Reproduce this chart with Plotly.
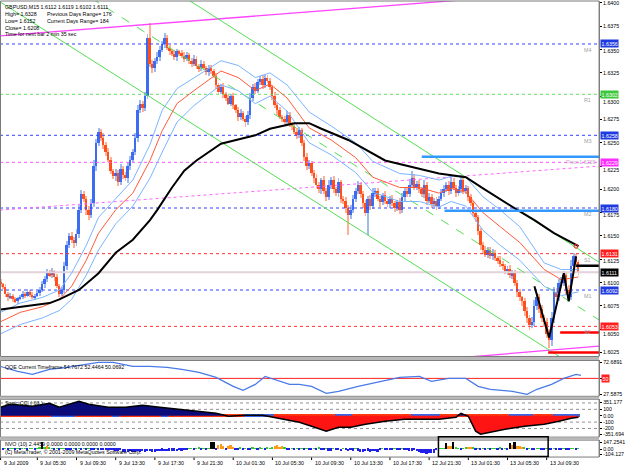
import plotly.graph_objects as go

W, H = 625, 469
BASE = 1.6000
PIP = 0.0001
FONT = "Liberation Sans"
FS = 5.3

# ---------------- main price data (pips above 1.6000) ----------------
open_first_pips = 101
close_pips = [
    98, 95, 88, 84, 86, 82, 80, 83, 85,
    88, 86, 90, 87, 84, 86, 89, 92,
    98, 104, 110, 108, 112, 106,
    96, 88, 92,
    118, 140, 150,
    146, 142, 152,
    178, 195, 190,
    178, 172, 185,
    225, 250, 262,
    255, 248, 240,
    232, 220, 214, 218,
    208, 222, 215, 212, 225,
    232, 240, 255,
    285, 292,
    287, 300,
    362, 335,
    330, 338, 342,
    350, 356, 362, 352, 348,
    345, 342, 348, 346, 343, 340, 344, 338,
    335, 340, 332, 330, 335, 330, 326, 330, 327, 322,
    312, 305, 310, 302,
    298, 292, 300, 290,
    285, 278, 282, 276, 272, 280,
    298, 310, 306,
    315, 318, 312, 320, 316, 310,
    300, 290, 285, 278,
    276, 272, 280, 270,
    268, 262, 258, 264,
    250, 235, 225, 228, 218, 212,
    205, 200, 210, 198, 192, 205,
    210, 200, 196, 208, 190, 188,
    180, 172, 178, 190,
    198, 205, 195, 185,
    175, 190, 182, 196,
    198, 190, 186, 194, 188, 184, 190, 185,
    180, 186, 178, 192, 198, 195, 205,
    212, 202, 206, 200,
    195, 205, 188, 192, 184, 188,
    182, 190, 196, 200,
    205, 198, 208, 202, 196, 200,
    210, 198, 202, 192,
    185, 175, 170,
    155, 140, 135,
    130, 135, 128, 132, 126, 124,
    120, 118, 112, 115, 108, 110,
    100, 90, 84, 80,
    70, 62, 55, 58, 75,
    85, 72, 62, 58,
    45, 38,
    62, 90, 85, 100,
    100, 108, 92, 84,
    118, 128, 122, 111,
]
wick_up_pips = [
    3, 2, 4, 2, 3, 2, 3, 2, 2, 3,
    2, 3, 2, 3, 2, 2, 3, 4, 3, 5,
    3, 4, 2, 3, 2, 3, 4, 5, 3, 4,
    3, 6, 5, 4, 3, 3, 4, 5, 6, 4,
    4, 3, 5, 3, 4, 3, 2, 4, 3, 5,
    3, 4, 3, 4, 3, 5, 6, 4, 3, 5,
    5, 16, 4, 3, 5, 4, 3, 6, 4, 3,
    3, 4, 3, 2, 3, 4, 3, 2, 3, 4,
    3, 2, 4, 3, 2, 3, 3, 2, 3, 2,
    3, 4, 2, 3, 2, 3, 2, 3, 4, 2,
    3, 4, 5, 3, 4, 3, 4, 5, 3, 3,
    3, 2, 4, 3, 3, 2, 3, 4, 3, 2,
    3, 4, 3, 2, 3, 4, 3, 2, 3, 4,
    3, 2, 4, 3, 5, 3, 4, 3, 4, 2,
    3, 4, 3, 5, 4, 3, 4, 3, 3, 4,
    3, 4, 5, 3, 4, 3, 2, 4, 3, 3,
    4, 3, 3, 5, 4, 3, 4, 6, 8, 4,
    3, 4, 3, 5, 3, 4, 3, 3, 4, 3,
    4, 5, 3, 4, 5, 4, 3, 4, 5, 3,
    3, 2, 3, 2, 3, 3, 4, 3, 4, 3,
    3, 4, 3, 2, 4, 3, 2, 3, 4, 3,
    4, 3, 3, 2, 3, 4, 3, 5, 6, 4,
    3, 4, 3, 4, 5, 6, 5, 4, 4, 6,
    4, 3, 5, 6, 4, 3, 2,
]
wick_dn_pips = [
    3, 2, 3, 4, 2, 3, 2, 3, 2, 3,
    3, 2, 3, 2, 3, 2, 3, 2, 4, 3,
    2, 3, 4, 2, 3, 2, 3, 4, 3, 4,
    5, 3, 4, 3, 4, 5, 5, 3, 4, 5,
    4, 3, 5, 4, 3, 4, 3, 5, 4, 3,
    4, 3, 5, 4, 3, 3, 4, 3, 4, 3,
    3, 4, 5, 4, 3, 4, 3, 4, 3, 4,
    2, 3, 4, 3, 2, 3, 2, 3, 4, 3,
    3, 4, 3, 2, 3, 4, 3, 3, 4, 3,
    3, 4, 3, 2, 3, 4, 3, 5, 4, 3,
    5, 3, 4, 3, 4, 3, 3, 4, 3, 2,
    3, 4, 3, 5, 3, 4, 3, 2, 3, 4,
    3, 4, 3, 4, 5, 4, 3, 4, 5, 4,
    4, 5, 3, 4, 3, 5, 4, 3, 4, 5,
    4, 5, 21, 4, 3, 4, 3, 4, 5, 4,
    24, 4, 3, 4, 3, 5, 3, 4, 3, 4,
    3, 4, 3, 4, 3, 4, 3, 3, 4, 3,
    3, 4, 3, 4, 5, 3, 4, 3, 4, 3,
    3, 4, 3, 4, 3, 3, 4, 3, 4, 3,
    3, 4, 3, 4, 5, 4, 5, 4, 3, 4,
    3, 4, 3, 4, 3, 4, 3, 4, 3, 4,
    4, 5, 4, 5, 6, 5, 6, 4, 5, 4,
    5, 4, 6, 5, 8, 6, 5, 4, 5, 4,
    4, 5, 4, 3, 4, 5, 3,
]
assert len(close_pips) == len(wick_up_pips) == len(wick_dn_pips) == 237

# moving averages (bar index, pips)
ma_black_bars = [0, 8, 20, 24, 32, 40, 47, 54, 61, 64, 70, 75, 80, 90, 100, 104, 110, 120, 126, 131, 142, 157, 168, 179, 190, 197, 211, 218, 226, 236]
ma_black_pips = [71, 74, 78, 82, 92, 110, 132, 146, 167, 178, 202, 220, 231, 249, 256, 258, 265, 271, 271, 265, 253, 231, 224, 217, 213, 201, 178, 167, 153, 139]
ma_red_bars = [0, 8, 17, 24, 29, 35, 40, 47, 54, 61, 66, 72, 79, 90, 97, 104, 110, 117, 126, 135, 145, 152, 163, 171, 179, 184, 190, 197, 204, 212, 222, 229, 236]
ma_red_pips = [58, 68, 74, 82, 96, 124, 153, 178, 196, 231, 263, 292, 306, 327, 320, 306, 313, 298, 266, 253, 234, 213, 202, 202, 196, 201, 197, 175, 160, 143, 114, 103, 106]
band_up_pips = [68, 78, 84, 92, 110, 140, 170, 190, 210, 248, 285, 308, 320, 338, 333, 320, 325, 312, 283, 268, 250, 230, 217, 215, 210, 214, 213, 192, 178, 160, 121, 114, 114]
band_dn_pips = [45, 55, 62, 70, 82, 108, 135, 163, 182, 212, 240, 272, 290, 312, 306, 292, 300, 284, 250, 237, 218, 197, 187, 187, 181, 187, 182, 156, 140, 124, 96, 86, 90]

zigzag_bars = [218, 224, 230, 232, 235]
zigzag_pips = [96, 41, 110, 80, 128]

# drawn trend lines: two anchors each (bar, pips)
trend_magenta_top = [(0, 364.7), (182.9, 402.1)]
trend_magenta_bot = [(213.4, 25.0), (237.8, 30.3)]
trend_magenta_dash = [(0, 177.8), (237.8, 223.7)]
trend_green_low = [(12.0, 380.8), (225.6, 25.0)]
trend_green_up = [(90.1, 380.8), (237.8, 132.9)]
trend_green_mid = [(60.0, 366.9), (237.8, 70.9)]

# horizontal levels
level_prices = [1.6356, 1.6302, 1.6258, 1.6229, 1.6180, 1.6131, 1.6111, 1.6092, 1.6053]
level_tags = ["M4", "R1", "M3", "Pivot 1.6229", "M2", "S1", "", "M1", "S2"]
level_kind = ["blue", "green", "blue", "magenta", "blue", "red", "bid", "blue", "red"]
thick_start_bars = [172, 181.3, 235, 228.5, 223.6]
thick_prices = [1.6235, 1.6177, 1.6118, 1.60464, 1.6025]
thick_kind = ["blue", "blue", "black", "red", "red"]

price_tick_labels = ["1.6025", "1.6050", "1.6075", "1.6100", "1.6125", "1.6150", "1.6175", "1.6200",
                     "1.6225", "1.6250", "1.6275", "1.6300", "1.6325", "1.6350", "1.6375", "1.6400"]

date_label_bars = [0, 15, 31, 47, 63, 79, 95, 111, 127, 143, 159, 175, 191, 207, 223]
date_labels = ["9 Jul 2009", "9 Jul 05:30", "9 Jul 09:30", "9 Jul 13:30", "9 Jul 17:30", "9 Jul 21:30",
               "10 Jul 01:30", "10 Jul 05:30", "10 Jul 09:30", "10 Jul 13:30", "10 Jul 17:30",
               "12 Jul 21:30", "13 Jul 01:30", "13 Jul 05:30", "13 Jul 09:30"]

# QQE panel
qqe_bars = [0, 7, 13, 20, 27, 34, 40, 46, 54, 61, 68, 74, 81, 88, 95, 99, 104, 108, 112, 118, 122, 127, 133, 138,
            146, 154, 163, 171, 176, 183, 190, 195, 200, 209, 215, 219, 225, 230, 235, 237]
qqe_vals = [66.9, 59.9, 55.6, 62.7, 65.5, 69.7, 72.6, 72.6, 66.9, 66.9, 65.5, 62.7, 58.5, 51.4, 38.7, 33.1, 41.5,
            52.8, 48.6, 41.5, 41.5, 38.7, 28.9, 31.7, 38.7, 44.4, 51.4, 52.8, 45.8, 50.0, 50.0, 38.7, 34.5, 31.7,
            27.4, 34.5, 41.5, 50.0, 55.6, 54.2]

# Sonic CCI panel
cci_bars = [0, 4, 13, 20, 24, 32, 36, 44, 51, 58, 65, 72, 81, 88, 93, 100, 107, 111, 117, 122, 127, 133, 138, 143,
            149, 157, 165, 173, 179, 186, 188, 191, 194, 196, 200, 206, 214, 222, 228, 233, 236]
cci_vals = [133, 180, 148, 195, 133, 227, 180, 133, 133, 164, 133, 102, 70, 39, -8, 8, 8, -23, -70, -102, -164,
            -242, -180, -180, -133, -86, -55, -55, -55, -23, 39, -8, -242, -289, -258, -211, -164, -133, -86, -39, -23]
cci_strip_runs = [(0, 20, "r"), (20, 29, "b"), (30, 44, "r"), (45, 47, "b"), (48, 64, "r"), (65, 67, "b"),
                  (68, 98, "r"), (99, 110, "b"), (111, 135, "r"), (136, 142, "b"), (143, 166, "r"),
                  (167, 178, "b"), (179, 206, "r"), (207, 216, "b"), (217, 224, "r"), (225, 235, "b"), (236, 236, "o")]

# NVO panel
nvo_vals = [
    10, -8, 12, -10, 8, 15, -12, 10, -6, 12,
    8, -10, 14, 10, -8, 20, 25, 140, 30, 60,
    25, 15, -10, 20, -12, 15, 10, -15, -20, -25,
    10, -8, 12, -10, 8, -12, 15, -10, -8, 12,
    -10, -15, -20, -12, -25, -30, -20, -35, -40, -30,
    -55, -60, -65, -50, -60, -55, -45, -60, -50, -55,
    -50, -45, -55, -60, -50, -45, -40, -50, -45, -40,
    -35, -40, -45, -30, -35, -20, -25, 15, 20, -15,
    20, 25, -15, 20, -20, 15, 140, 150, -30, 90,
    100, 70, -20, 60, 85, 40, -20, -25, 30, -30,
    20, -25, -20, 35, 20, -30, 25, 15, -20, 30,
    20, 30, 60, 80, 50, 70, 25, -15, -10, 15,
    -15, 10, -20, 15, -25, 20, -10, -20, 15, -25,
    25, -20, -30, 15, -35, -40, 20, -25, -30, -45,
    15, -30, -50, -25, -40, 20, -35, -60, -70, -50,
    -40, -60, -50, -45, -55, -30, 20, -30, -15, -20,
    -15, 20, -20, -25, 15, -30, -20, -35, -40, -30,
    -45, -60, -80, -90, -100, -95, -85, -90, -30, 20,
    20, 15, 120, 70, 60, 150, 30, 20, -10, 15,
    25, 45, 50, 30, -15, 20, -25, 15, -20, 10,
    -15, 20, 15, -10, 25, -20, 10, -15, 120, 80,
    140, 70, 60, 50, 25, -20, 15, -15, -25, 20,
    20, -25, -20, 15, -30, -20, 20, -15, -25, -20,
    15, -20, -15, 20, 15, -10, 10,
]
assert len(nvo_vals) == 237

# ---------------- geometry helpers ----------------
def pp(y):  # pixel row -> paper y
    return 1 - y / H

X_DOM = 601 / W
X_RANGE = [-0.244, 244.4]
MAIN_DOM = [pp(357), pp(0)]
QQE_DOM = [pp(397), pp(361)]
CCI_DOM = [pp(438), pp(400)]
NVO_DOM = [pp(458), pp(441)]
MAIN_RANGE = [BASE + 20.7 * PIP, BASE + 402.1 * PIP]
MAIN_PX_PER_PRICE = 357 / (MAIN_RANGE[1] - MAIN_RANGE[0])

def price(p):
    return BASE + p * PIP

n = len(close_pips)
bars = list(range(n))
opens = [open_first_pips] + close_pips[:-1]
highs = [max(o, c) + u for o, c, u in zip(opens, close_pips, wick_up_pips)]
lows = [min(o, c) - d for o, c, d in zip(opens, close_pips, wick_dn_pips)]
bull = [c >= o for o, c in zip(opens, close_pips)]

fig = go.Figure()

# wicks
fig.add_trace(go.Bar(x=bars, base=[price(l) for l in lows],
                     y=[(h - l) * PIP for h, l in zip(highs, lows)],
                     width=0.38, marker=dict(color=["#9fbaf2" if b else "#ffb094" for b in bull], line_width=0),
                     hoverinfo="skip", xaxis="x", yaxis="y"))
# bodies
fig.add_trace(go.Bar(x=bars, base=[price(min(o, c)) for o, c in zip(opens, close_pips)],
                     y=[max(abs(c - o), 0.6) * PIP for o, c in zip(opens, close_pips)],
                     width=0.8, marker=dict(color=["#3c6cf0" if b else "#ff4f1c" for b in bull], line_width=0),
                     hoverinfo="skip", xaxis="x", yaxis="y"))

# levels (dotted)
kind_line = {"blue": "#3340ff", "green": "#66dd66", "magenta": "#ff55ff", "red": "#ff3030", "bid": "#e2d2dc"}
for lv, kd in zip(level_prices, level_kind):
    if kd == "bid":
        fig.add_trace(go.Scatter(x=X_RANGE, y=[lv, lv], mode="lines", line=dict(color=kind_line[kd], width=2),
                                 hoverinfo="skip", yaxis="y"))
    else:
        fig.add_trace(go.Scatter(x=X_RANGE, y=[lv, lv], mode="lines",
                                 line=dict(color=kind_line[kd], width=1, dash="dot"), hoverinfo="skip", yaxis="y"))

def extend(anchors):
    (x1, p1), (x2, p2) = anchors
    s = (p2 - p1) / (x2 - x1)
    xs = [X_RANGE[0], X_RANGE[1]]
    return xs, [price(p1 + s * (x - x1)) for x in xs]

for anc, col, dash, wd in [(trend_magenta_top, "#ff44ff", "solid", 1.3), (trend_magenta_bot, "#ff44ff", "solid", 1.3),
                           (trend_magenta_dash, "#ff66ff", "dot", 1), (trend_green_low, "#55dd55", "solid", 1),
                           (trend_green_up, "#55dd55", "solid", 1), (trend_green_mid, "#55dd55", "dash", 1)]:
    xs, ys = extend(anc)
    fig.add_trace(go.Scatter(x=xs, y=ys, mode="lines", line=dict(color=col, width=wd, dash=dash),
                             hoverinfo="skip", yaxis="y"))

# moving averages / bands
fig.add_trace(go.Scatter(x=ma_red_bars, y=[price(p) for p in band_up_pips], mode="lines",
                         line=dict(color="#7ab4ff", width=1), hoverinfo="skip", yaxis="y"))
fig.add_trace(go.Scatter(x=ma_red_bars, y=[price(p) for p in band_dn_pips], mode="lines",
                         line=dict(color="#7ab4ff", width=1), hoverinfo="skip", yaxis="y"))
fig.add_trace(go.Scatter(x=ma_red_bars, y=[price(p) for p in ma_red_pips], mode="lines",
                         line=dict(color="#ff5a3c", width=1), hoverinfo="skip", yaxis="y"))
fig.add_trace(go.Scatter(x=ma_black_bars, y=[price(p) for p in ma_black_pips], mode="lines",
                         line=dict(color="#000000", width=2), hoverinfo="skip", yaxis="y"))

# thick drawn horizontal segments
kind_thick = {"blue": "#3399ff", "black": "#000000", "red": "#ff0000"}
for sb, pr, kd in zip(thick_start_bars, thick_prices, thick_kind):
    fig.add_trace(go.Scatter(x=[sb, X_RANGE[1]], y=[pr, pr], mode="lines",
                             line=dict(color=kind_thick[kd], width=2.5), hoverinfo="skip", yaxis="y"))

# zigzag
fig.add_trace(go.Scatter(x=zigzag_bars, y=[price(p) for p in zigzag_pips], mode="lines",
                         line=dict(color="#000000", width=2), hoverinfo="skip", yaxis="y"))
fig.add_trace(go.Scatter(x=[zigzag_bars[-1]], y=[price(zigzag_pips[-1] + 11)], mode="markers",
                         marker=dict(symbol="circle-open", color="#ff2020", size=4), hoverinfo="skip", yaxis="y"))

# ---------------- QQE ----------------
fig.add_trace(go.Scatter(x=X_RANGE, y=[50, 50], mode="lines", line=dict(color="#ff2020", width=1),
                         hoverinfo="skip", yaxis="y2"))
fig.add_trace(go.Scatter(x=qqe_bars, y=qqe_vals, mode="lines", line=dict(color="#4a7ae8", width=1.2),
                         hoverinfo="skip", yaxis="y2"))

# ---------------- Sonic CCI ----------------
for lv in [200, 100, -100, -200]:
    fig.add_trace(go.Scatter(x=X_RANGE, y=[lv, lv], mode="lines", line=dict(color="#909090", width=1, dash="dot"),
                             hoverinfo="skip", yaxis="y3"))
fig.add_trace(go.Scatter(x=cci_bars, y=[max(v, 0) for v in cci_vals], mode="lines", fill="tozeroy",
                         fillcolor="#0b0b7a", line=dict(width=0), hoverinfo="skip", yaxis="y3"))
fig.add_trace(go.Scatter(x=cci_bars, y=[min(v, 0) for v in cci_vals], mode="lines", fill="tozeroy",
                         fillcolor="#ff1414", line=dict(width=0), hoverinfo="skip", yaxis="y3"))
strip_col = {"r": "#ff3a10", "b": "#3c64e0", "o": "#ff8c1a"}
strip_colors = []
for a, b, c in cci_strip_runs:
    strip_colors += [strip_col[c]] * (b - a + 1)
fig.add_trace(go.Bar(x=bars, base=[-28] * n, y=[56] * n, width=1.0,
                     marker=dict(color=strip_colors[:n], line_width=0), hoverinfo="skip", yaxis="y3"))
fig.add_trace(go.Scatter(x=cci_bars, y=cci_vals, mode="lines", line=dict(color="#000000", width=1.5),
                         hoverinfo="skip", yaxis="y3"))

# ---------------- NVO ----------------
def nvo_color(v):
    if v >= 110:
        return "#000000"
    if v >= 40:
        return "#ff9a1a"
    if v > 0:
        return "#33cc33"
    return "#2020e8"

fig.add_trace(go.Bar(x=bars, y=nvo_vals, width=0.7, marker=dict(color=[nvo_color(v) for v in nvo_vals], line_width=0),
                     hoverinfo="skip", yaxis="y4"))

# ---------------- layout ----------------
tickfont = dict(family=FONT, size=FS, color="#000000")
common_y = dict(side="right", anchor="x", showgrid=False, zeroline=False, showline=True, linecolor="#808080",
                linewidth=1, ticks="outside", ticklen=2, tickcolor="#000000", tickfont=tickfont, fixedrange=True)

shapes = []
annotations = []

# panel frames and separators
for dom in [MAIN_DOM, QQE_DOM, CCI_DOM, NVO_DOM]:
    shapes.append(dict(type="rect", xref="paper", yref="paper", x0=0.0008, x1=X_DOM, y0=dom[0], y1=dom[1],
                       line=dict(color="#7a7a7a", width=1), layer="above"))
for y0, y1 in [(357.5, 360.5), (397.5, 400.0), (438.5, 441.0)]:
    shapes.append(dict(type="rect", xref="paper", yref="paper", x0=0, x1=X_DOM, y0=pp(y1), y1=pp(y0),
                       line=dict(width=0), fillcolor="#b8b8b8", layer="above"))

# NVO highlight box
shapes.append(dict(type="rect", xref="x", yref="paper", x0=178.8, x1=223.6, y0=pp(457.5), y1=pp(437.5),
                   line=dict(color="#000000", width=1.5), layer="above"))

# date tick marks and labels
for b, t in zip(date_label_bars, date_labels):
    shapes.append(dict(type="line", xref="x", yref="paper", x0=b, x1=b, y0=pp(461), y1=pp(458.5),
                       line=dict(color="#000000", width=1)))
    annotations.append(dict(x=b, y=pp(464), xref="x", yref="paper", text=t, showarrow=False,
                            xanchor="left", yanchor="middle", xshift=1, font=tickfont))

# main price-axis tick labels (as text, nudged clear of the value boxes)
tick_vals = [float(t) for t in price_tick_labels]
for tv, tt in zip(tick_vals, price_tick_labels):
    shift = 0.0
    for lv in level_prices:
        d = (tv - lv) * MAIN_PX_PER_PRICE  # + means tick above box
        if abs(d) < 7:
            shift = (7.5 - abs(d)) * (1 if d > 0 else -1)
    annotations.append(dict(x=X_DOM, y=tv, xref="paper", yref="y", text=tt, showarrow=False,
                            xanchor="left", yanchor="middle", xshift=2, yshift=shift, font=tickfont))

# axis-side value boxes
box_bg = {"blue": "#1f3be0", "green": "#3cc83c", "magenta": "#ff2cff", "red": "#ff1e1e", "bid": "#000000"}
for lv, kd in zip(level_prices, level_kind):
    annotations.append(dict(x=X_DOM, y=lv, xref="paper", yref="y", text="%.4f" % lv, showarrow=False,
                            xanchor="left", yanchor="middle", xshift=1, bgcolor=box_bg[kd], borderpad=0.6,
                            font=dict(family=FONT, size=FS, color="#ffffff")))
# level tags
for lv, tg in zip(level_prices, level_tags):
    if not tg:
        continue
    if tg.startswith("Pivot"):
        annotations.append(dict(x=230, y=lv, xref="x", yref="y", text=tg, showarrow=False, xanchor="left",
                                yanchor="middle", font=dict(family=FONT, size=FS, color="#c9a6c9")))
    else:
        annotations.append(dict(x=237.5, y=lv, xref="x", yref="y", text=tg, showarrow=False, xanchor="left",
                                yanchor="top", yshift=-1, font=dict(family=FONT, size=FS, color="#a0a0a0")))

annotations.append(dict(x=X_DOM, y=50, xref="paper", yref="y2", text="50", showarrow=False, xanchor="left",
                        yanchor="middle", xshift=2, bgcolor="#ff2020", borderpad=0.6,
                        font=dict(family=FONT, size=FS, color="#ffffff")))

# header texts
header = [(3, 6, "GBPUSD,M15 1.6112 1.6119 1.6102 1.6111"), (3, 13, "High= 1.6328"),
          (45, 13, "Previous Days Range= 176"), (3, 20, "Low= 1.6152"), (45, 20, "Current Days Range= 184"),
          (3, 27, "Close= 1.6208"), (3, 33.5, "Time for next bar 2 min 35 sec"),
          (3, 368, "QQE Current Timeframe 54.7672 52.4464 50.0692"), (3, 404, "Sonic CCI ( 63 )"),
          (3, 445, "NVO (10) 2.4459 0.0000 0.0000 0.0000 0.0000"),
          (3, 452.5, "(C) MetaTrader, \u00a9 2001-2009 MetaQuotes Software Corp.")]
for x, y, t in header:
    annotations.append(dict(x=x / W, y=pp(y), xref="paper", yref="paper", text=t, showarrow=False,
                            xanchor="left", yanchor="middle", font=tickfont))

fig.update_layout(
    width=W, height=H, margin=dict(l=0, r=0, t=0, b=0), paper_bgcolor="#ffffff", plot_bgcolor="#ffffff",
    showlegend=False, barmode="overlay", bargap=0,
    xaxis=dict(domain=[0, X_DOM], range=X_RANGE, visible=False, fixedrange=True),
    yaxis=dict(domain=MAIN_DOM, range=MAIN_RANGE, tickvals=tick_vals, showticklabels=False, **common_y),
    yaxis2=dict(domain=QQE_DOM, range=[24.6, 75.4], tickvals=[72.6891, 50, 27.5875],
                ticktext=["72.6891", "50", "27.5875"], **common_y),
    yaxis3=dict(domain=CCI_DOM, range=[-336, 258], tickvals=[211, 100, 0, -100, -200, -289],
                ticktext=["351.177", "100", "0.00", "-100", "-200", "-351.694"], **common_y),
    yaxis4=dict(domain=NVO_DOM, range=[-168, 189], tickvals=[147.2541, 0, -104.127],
                ticktext=["147.2541", "0.00", "-104.127"], **common_y),
    shapes=shapes, annotations=annotations,
)

fig.write_html("out.html")
